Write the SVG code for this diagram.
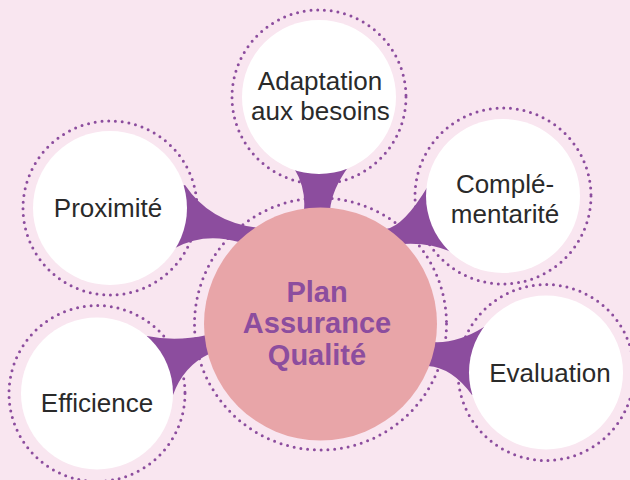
<svg xmlns="http://www.w3.org/2000/svg" width="630" height="480" viewBox="0 0 630 480">
  <style>
    .bg { fill: #f9e6f0; }
    .ring { fill: none; stroke: #8c4d9e; stroke-width: 3; stroke-dasharray: 0 6.8; stroke-linecap: round; }
    .conn { fill: #8c4d9e; stroke: none; }
    .disc { fill: #ffffff; }
    .hub { fill: #e8a5a8; }
    .lbl { font-family: "Liberation Sans", Arial, sans-serif; font-size: 26px; fill: #2a2a2a; text-anchor: middle; }
    .hubtxt { font-family: "Liberation Sans", Arial, sans-serif; font-size: 29px; font-weight: bold; fill: #8c4d9e; text-anchor: middle; }
  </style>
  <rect class="bg" x="0" y="0" width="630" height="480"/>

  <g id="rings">
    <circle class="ring" cx="320.5" cy="324" r="126"/>
    <circle class="ring" cx="319" cy="97" r="87"/>
    <circle class="ring" cx="110" cy="208" r="87"/>
    <circle class="ring" cx="503" cy="196" r="88"/>
    <circle class="ring" cx="97" cy="393.5" r="88"/>
    <circle class="ring" cx="546" cy="372.5" r="88"/>
  </g>

  <g id="connectors">
    <path class="conn" d="M185,185 Q210.5,223 260,228 L320.5,324 L239,242 Q204,232 175,248 L110,208 Z"/>
    <path class="conn" d="M294,168 Q306,188 304,210 L320.5,324 L330,210 Q332,189 349,166 L319,97 Z"/>
    <path class="conn" d="M428,186 Q404,226 386,229 L320.5,324 L402,244 Q428.5,242 452,252 L503,196 Z"/>
    <path class="conn" d="M147,336 Q176,342 207,335 L320.5,324 L209,354 Q183.5,366 173,395 L97,393.5 Z"/>
    <path class="conn" d="M484,327 Q457.5,343.5 433,342 L320.5,324 L428,366 Q452,367.5 472,395 L546,372.5 Z"/>
  </g>

  <g id="node-adaptation">
    <circle class="disc" cx="319" cy="97" r="77"/>
    <text class="lbl" x="320" y="90">Adaptation</text>
    <text class="lbl" x="320.5" y="120">aux besoins</text>
  </g>
  <g id="node-proximite">
    <circle class="disc" cx="110" cy="208" r="77"/>
    <text class="lbl" x="108" y="217">Proximité</text>
  </g>
  <g id="node-complementarite">
    <circle class="disc" cx="503" cy="196" r="77"/>
    <text class="lbl" x="505" y="193">Complé-</text>
    <text class="lbl" x="505" y="223">mentarité</text>
  </g>
  <g id="node-efficience">
    <circle class="disc" cx="97" cy="393.5" r="76"/>
    <text class="lbl" x="97" y="412">Efficience</text>
  </g>
  <g id="node-evaluation">
    <circle class="disc" cx="546" cy="372.5" r="77"/>
    <text class="lbl" x="550" y="382">Evaluation</text>
  </g>
  <g id="node-center">
    <circle class="hub" cx="320.5" cy="324" r="116.5"/>
    <text class="hubtxt" x="317" y="302">Plan</text>
    <text class="hubtxt" x="317" y="333">Assurance</text>
    <text class="hubtxt" x="317" y="365">Qualité</text>
  </g>
</svg>
